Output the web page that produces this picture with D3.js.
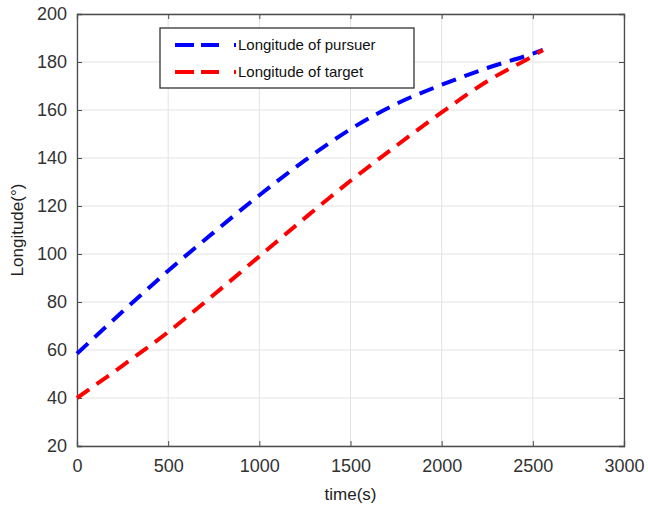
<!DOCTYPE html>
<html>
<head>
<meta charset="utf-8">
<script src="https://cdn.jsdelivr.net/npm/d3@7"></script>
<style>
html,body{margin:0;padding:0;background:#fff;}
svg{display:block;font-family:"Liberation Sans",Arial,Helvetica,sans-serif;}
</style>
</head>
<body>
<svg id="chart" width="648" height="510"></svg>
<script>
const timeValues = [0, 250, 500, 750, 1000, 1250, 1500, 1750, 2000, 2250, 2500, 2555];
const pursuerLongitude = [58.5, 76, 93, 109, 124.5, 139, 152, 162.5, 170.5, 177.5, 183.5, 185];
const targetLongitude = [40, 53.5, 67.5, 83, 99, 115, 130.5, 145, 159, 172, 182.5, 185];
const xTicks = [0, 500, 1000, 1500, 2000, 2500, 3000];
const yTicks = [20, 40, 60, 80, 100, 120, 140, 160, 180, 200];
const seriesNames = ["Longitude of pursuer", "Longitude of target"];
const seriesColors = ["#0000ff", "#ff0000"];

const svg = d3.select("#chart");
const m = {left: 77, top: 14, right: 24, bottom: 64};
const W = 648, H = 510;
const x = d3.scaleLinear().domain([0, 3000]).range([m.left, W - m.right]);
const y = d3.scaleLinear().domain([20, 200]).range([H - m.bottom, m.top]);

// grid
const g = svg.append("g");
g.selectAll(".gx").data(xTicks).join("line")
  .attr("x1", d => x(d)).attr("x2", d => x(d))
  .attr("y1", y(20)).attr("y2", y(200))
  .attr("stroke", "#e3e3e3").attr("stroke-width", 1);
g.selectAll(".gy").data(yTicks).join("line")
  .attr("y1", d => y(d)).attr("y2", d => y(d))
  .attr("x1", x(0)).attr("x2", x(3000))
  .attr("stroke", "#e3e3e3").attr("stroke-width", 1);

// axes
const axisColor = "#4d4d4d";
const xAxis = svg.append("g").attr("transform", `translate(0,${y(20)})`)
  .call(d3.axisBottom(x).tickValues(xTicks).tickSize(-5).tickPadding(13).tickFormat(d3.format("d")));
const yAxis = svg.append("g").attr("transform", `translate(${x(0)},0)`)
  .call(d3.axisLeft(y).tickValues(yTicks).tickSize(-5).tickPadding(10).tickFormat(d3.format("d")));
const xTop = svg.append("g").attr("transform", `translate(0,${y(200)})`)
  .call(d3.axisTop(x).tickValues(xTicks).tickSize(-5).tickFormat(""));
const yRight = svg.append("g").attr("transform", `translate(${x(3000)},0)`)
  .call(d3.axisRight(y).tickValues(yTicks).tickSize(-5).tickFormat(""));
[xAxis, yAxis, xTop, yRight].forEach(a => {
  a.select(".domain").attr("stroke", axisColor).attr("stroke-width", 1.3);
  a.selectAll(".tick line").attr("stroke", axisColor).attr("stroke-width", 1);
  a.selectAll(".tick text").attr("fill", "#333").attr("font-size", 18)
    .attr("font-family", "'Liberation Sans',Arial,sans-serif");
});

// lines
const line = d3.line().x((d, i) => x(timeValues[i])).y(d => y(d)).curve(d3.curveMonotoneX);
[pursuerLongitude, targetLongitude].forEach((s, k) => {
  svg.append("path").datum(s).attr("d", line)
    .attr("fill", "none").attr("stroke", seriesColors[k])
    .attr("stroke-width", 4).attr("stroke-dasharray", "15,9");
});

// labels
svg.append("text").attr("x", x(1500)).attr("y", 500).attr("text-anchor", "middle")
  .attr("font-size", 17).attr("fill", "#222").text("time(s)");
svg.append("text").attr("transform", `translate(23,${y(110)}) rotate(-90)`)
  .attr("text-anchor", "middle").attr("font-size", 17).attr("fill", "#222").text("Longitude(°)");

// legend
const lg = svg.append("g");
lg.append("rect").attr("x", 160).attr("y", 28).attr("width", 254).attr("height", 60)
  .attr("fill", "#fff").attr("stroke", "#333").attr("stroke-width", 1.3);
seriesNames.forEach((n, k) => {
  const yy = 45 + k * 27;
  lg.append("line").attr("x1", 175).attr("x2", 236).attr("y1", yy).attr("y2", yy)
    .attr("stroke", seriesColors[k]).attr("stroke-width", 4).attr("stroke-dasharray", "19,7,18,15,2,10");
  lg.append("text").attr("x", 238).attr("y", yy + 5).attr("font-size", 15)
    .attr("fill", "#111").text(n);
});
</script>
</body>
</html>
